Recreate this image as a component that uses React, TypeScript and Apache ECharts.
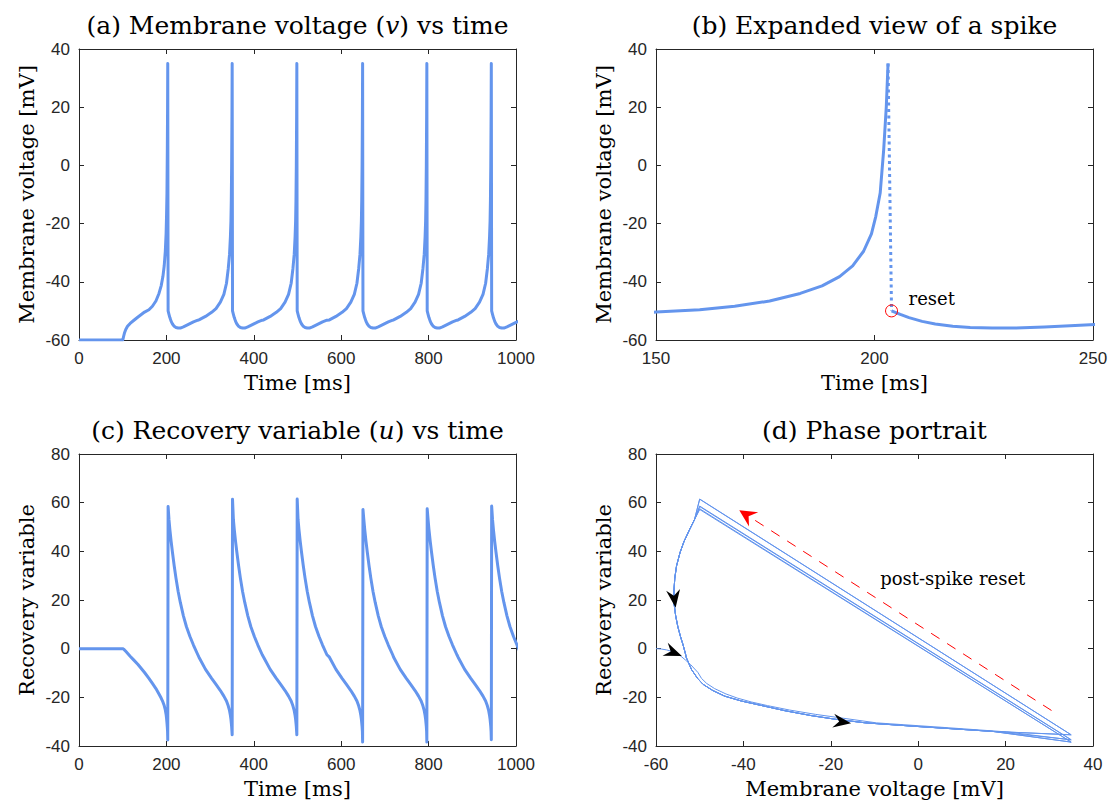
import React, { useEffect, useRef } from "react";
import * as echarts from "echarts";

// ---------- data ----------
// first stimulus segment (current step at t = 100 ms) up to just before the first spike peak
const onsetTime = [0, 100, 101, 102, 104, 107, 111, 117, 125, 135, 150, 160, 168, 176, 183, 188, 192, 195, 197.5, 199.3, 200.3, 201.3, 202.1, 202.7];
const onsetVolt = [-60, -60, -59.5, -58.8, -57.6, -56.4, -55.3, -54.3, -53.3, -52.1, -50.4, -49.6, -48.4, -46.6, -44, -41.4, -38.2, -34.5, -29.5, -23.5, -17.5, -9.5, 5.3, 20.2];
const onsetRecovery = [0, 0, -0.05, -0.15, -0.5, -1.1, -1.9, -3.1, -4.6, -6.5, -9.8, -12.2, -14.3, -16.4, -18.6, -20.3, -21.9, -23.4, -25.2, -27, -28.5, -30.5, -32.3, -34.2];

// spikes
const peakTimes = [203.1, 350.5, 498.5, 649, 796, 943.5];
const spikePeakVolt = 35;
const resetVolt = -50;
const resetDelay = 0.8;
const troughRecovery = [-37.5, -35.4, -35.4, -38.4, -38.4, -37.4]; // u at the spike peak
const peakRecovery = [58.4, 61.4, 61.5, 57.2, 57.5, 58.6]; // u just after reset

// trajectory after a reset (ms after the spike peak)
const afterOffsets = [2.8, 4.8, 7.8, 10.8, 14.8, 18.8, 23.8, 28.8, 35.8, 42.8, 50.8, 58.8, 68.8];
const afterVolt = [-51.2, -52.3, -53.6, -54.5, -55.3, -55.7, -55.9, -55.9, -55.5, -55, -54.4, -53.8, -53.2];
const afterRecovery = [53, 49, 44, 39.5, 34, 29, 23.5, 19, 13.5, 9, 5, 1.5, -2.5];

// trajectory before a spike (ms before the spike peak)
const beforeOffsets = [-76, -61, -47, -37, -27, -19, -13, -9, -6, -4, -2.8, -2, -1.2, -0.5];
const beforeVolt = [-53.1, -51.9, -50.5, -49.2, -47, -44.3, -40.5, -35.5, -30.5, -24.5, -19, -12, 0, 17];
const beforeRecovery = [-3.5, -8.5, -12.2, -14.7, -17.2, -19.5, -21.5, -23.5, -25.5, -27.5, -29, -30.5, -32, -34];

// axes
const xRanges = [[0, 1000, 200], [150, 250, 50], [0, 1000, 200], [-60, 40, 20]];
const yRanges = [[-60, 40, 20], [-60, 40, 20], [-40, 80, 20], [-40, 80, 20]];
const xNames = ["Time [ms]", "Time [ms]", "Time [ms]", "Membrane voltage [mV]"];
const yNames = ["Membrane voltage [mV]", "Membrane voltage [mV]", "Recovery variable", "Recovery variable"];
const titles = [
  "(a) Membrane voltage ({i|v}) vs time",
  "(b) Expanded view of a spike",
  "(c) Recovery variable ({i|u}) vs time",
  "(d) Phase portrait",
];

// annotations (data coordinates)
const phaseArrows = [
  { v: -55.8, u: 20.5, rot: 188 },
  { v: -56, u: -1.6, rot: 248 },
  { v: -17.4, u: -30.1, rot: 262 },
];
const resetArrowStart = [30.5, -25.4];
const resetArrowEnd = [-39.3, 55];
const resetLabelPos = [207.8, -45.6];
const postSpikeLabelPos = [-8.7, 28.8];

// ---------- styling ----------
const BLUE = "#6495ED";
const AXIS = "#262626";
const SERIF = '"DejaVu Serif", serif';
const SANS = '"Liberation Sans", Arial, sans-serif';
const grids = [
  { left: 79, top: 49, width: 437, height: 291 },
  { left: 656, top: 49, width: 437, height: 291 },
  { left: 79, top: 454, width: 437, height: 292 },
  { left: 656, top: 454, width: 437, height: 292 },
];
const HEAD = "path://M7,0 L14,18 L7,12 L0,18 Z";
const HEAD_SQ = "path://M5,0 L10,10 L5,6.5 L0,10 Z";

type Pt = { t: number; v: number; u: number };

function buildTrace(): Pt[] {
  const trace: Pt[] = [];
  onsetTime.forEach((t, i) => trace.push({ t, v: onsetVolt[i], u: onsetRecovery[i] }));
  peakTimes.forEach((p, k) => {
    if (k > 0) beforeOffsets.forEach((o, j) => trace.push({ t: p + o, v: beforeVolt[j], u: beforeRecovery[j] }));
    trace.push({ t: p, v: spikePeakVolt, u: troughRecovery[k] });
    trace.push({ t: p + resetDelay, v: resetVolt, u: peakRecovery[k] });
    afterOffsets.forEach((o, j) => trace.push({ t: p + o, v: afterVolt[j], u: afterRecovery[j] }));
  });
  return trace;
}

export default function App() {
  const ref = useRef<HTMLDivElement>(null);
  useEffect(() => {
    if (!ref.current) return;
    const chart = echarts.init(ref.current, undefined, { renderer: "svg" });
    const trace = buildTrace();
    const peakIdx = onsetTime.length;

    const xAxis: any[] = [];
    const yAxis: any[] = [];
    const line = { show: true, onZero: false, lineStyle: { color: AXIS, width: 1 } };
    const tick = { show: true, inside: true, length: 5, lineStyle: { color: AXIS, width: 1 } };
    const nameStyle = { fontFamily: SERIF, fontSize: 21, color: "#000" };
    const labelStyle = { color: AXIS, fontFamily: SANS, fontSize: 17, formatter: (val: number) => String(val) };
    grids.forEach((g, i) => {
      const [xmin, xmax, xint] = xRanges[i];
      const [ymin, ymax, yint] = yRanges[i];
      xAxis.push({
        type: "value", gridIndex: i, min: xmin, max: xmax, interval: xint, position: "bottom",
        name: xNames[i], nameLocation: "middle", nameGap: 32, nameTextStyle: nameStyle,
        axisLine: line, axisTick: tick, axisLabel: { ...labelStyle, margin: 10 }, splitLine: { show: false },
      });
      xAxis.push({
        type: "value", gridIndex: i, min: xmin, max: xmax, interval: xint, position: "top",
        axisLine: line, axisTick: tick, axisLabel: { show: false }, splitLine: { show: false },
      });
      yAxis.push({
        type: "value", gridIndex: i, min: ymin, max: ymax, interval: yint, position: "left",
        name: yNames[i], nameLocation: "middle", nameGap: 42, nameTextStyle: nameStyle,
        axisLine: line, axisTick: tick, axisLabel: { ...labelStyle, margin: 9 }, splitLine: { show: false },
      });
      yAxis.push({
        type: "value", gridIndex: i, min: ymin, max: ymax, interval: yint, position: "right",
        axisLine: line, axisTick: tick, axisLabel: { show: false }, splitLine: { show: false },
      });
    });

    const thick = { color: BLUE, width: 3, join: "round" };
    const common = { type: "line", showSymbol: false, symbol: "none", silent: true, clip: true };

    const option: any = {
      animation: false,
      backgroundColor: "#fff",
      grid: grids.map((g) => ({ ...g, containLabel: false })),
      xAxis,
      yAxis,
      series: [
        { ...common, xAxisIndex: 0, yAxisIndex: 0, data: trace.map((p) => [p.t, p.v]), lineStyle: thick },
        { ...common, xAxisIndex: 2, yAxisIndex: 2, data: trace.slice(0, peakIdx + 1).map((p) => [p.t, p.v]), lineStyle: thick },
        {
          ...common, xAxisIndex: 2, yAxisIndex: 2,
          data: [trace[peakIdx], trace[peakIdx + 1]].map((p) => [p.t, p.v]),
          lineStyle: { color: BLUE, width: 3, type: [3, 3.5], cap: "butt" },
        },
        {
          ...common, xAxisIndex: 2, yAxisIndex: 2, data: trace.slice(peakIdx + 1).map((p) => [p.t, p.v]), lineStyle: thick,
          markPoint: {
            silent: true, symbol: "circle", symbolSize: 12, label: { show: false },
            itemStyle: { color: "rgba(0,0,0,0)", borderColor: "#ff0000", borderWidth: 1 },
            data: [{ coord: [trace[peakIdx + 1].t, trace[peakIdx + 1].v] }],
          },
        },
        { ...common, xAxisIndex: 4, yAxisIndex: 4, data: trace.map((p) => [p.t, p.u]), lineStyle: thick },
        {
          ...common, xAxisIndex: 6, yAxisIndex: 6, data: trace.map((p) => [p.v, p.u]),
          lineStyle: { color: BLUE, width: 1, join: "round" },
          markPoint: {
            silent: true, symbol: HEAD, symbolSize: [14, 18], label: { show: false },
            itemStyle: { color: "#000" },
            data: phaseArrows.map((a) => ({ coord: [a.v, a.u], symbolRotate: a.rot })),
          },
          markLine: {
            silent: true, symbol: ["none", HEAD_SQ], symbolSize: 17, label: { show: false },
            lineStyle: { color: "#ff0000", width: 1, type: [10, 9] },
            itemStyle: { color: "#ff0000" },
            data: [[{ coord: resetArrowStart }, { coord: resetArrowEnd }]],
          },
        },
      ],
    };
    chart.setOption(option);

    const graphic: any[] = [];
    grids.forEach((g, i) => {
      graphic.push({
        type: "text", x: g.left + g.width / 2, y: i < 2 ? 25 : 430, silent: true,
        style: {
          text: titles[i], fontFamily: SERIF, fontSize: 25, fill: "#000",
          textAlign: "center", textVerticalAlign: "middle",
          rich: { i: { fontFamily: SERIF, fontSize: 25, fontStyle: "italic", fill: "#000" } },
        },
      });
    });
    const rp = chart.convertToPixel({ gridIndex: 1 } as any, resetLabelPos) as number[];
    graphic.push({
      type: "text", x: rp[0], y: rp[1], silent: true,
      style: { text: "reset", fontFamily: SERIF, fontSize: 18, fill: "#000", textAlign: "left", textVerticalAlign: "middle" },
    });
    const pp = chart.convertToPixel({ gridIndex: 3 } as any, postSpikeLabelPos) as number[];
    graphic.push({
      type: "text", x: pp[0], y: pp[1], silent: true,
      style: { text: "post-spike reset", fontFamily: SERIF, fontSize: 18, fill: "#000", textAlign: "left", textVerticalAlign: "middle" },
    });
    chart.setOption({ graphic });

    return () => chart.dispose();
  }, []);
  return <div ref={ref} style={{ position: "absolute", left: 0, top: 0, width: 1116, height: 806 }} />;
}
